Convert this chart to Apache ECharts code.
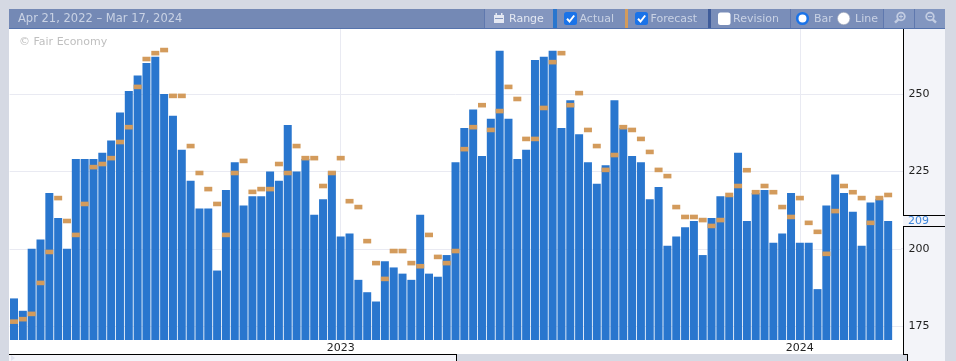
<!DOCTYPE html>
<html>
<head>
<meta charset="utf-8">
<style>html,body{margin:0;padding:0;background:#d5d9e3;overflow:hidden}#c{width:956px;height:361px}</style>
<script src="https://cdn.jsdelivr.net/npm/echarts@6/dist/echarts.min.js"></script>
</head>
<body>
<div id="c"></div>
<script>
const dateRange = 'Apr 21, 2022 – Mar 17, 2024';
const watermark = '© Fair Economy';
const firstWeek = '2022-04-21';
const yearTicks = { 37: '2023', 89: '2024' };
const yTicks = [175, 200, 225, 250];
const lastValue = 209;
const actual = [184,180,200,203,218,210,200,229,229,229,231,235,244,251,256,260,262,250,243,232,
222,213,213,193,219,228,214,217,217,225,222,240,225,229,211,216,225,204,205,190,
186,183,196,194,192,190,211,192,191,198,228,239,245,230,242,264,242,229,232,261,
262,264,239,248,237,228,221,227,248,239,230,228,216,220,201,204,207,209,198,210,
217,217,231,209,218,219,202,205,218,202,202,187,214,224,218,212,201,215,216,209];
const forecast = [176.5,177.3,179,189,199,216.4,209,204.5,214.5,226.4,227.4,229.3,234.5,239.3,252.3,261.3,263.2,264.2,249.4,249.4,
233.2,224.5,219.3,214.5,204.5,224.5,228.4,218.4,219.3,219.3,227.4,224.5,233.2,229.3,229.3,220.3,224.5,229.3,215.4,213.5,
202.5,195.4,190.3,199.3,199.3,195.4,194.4,204.5,197.4,195.4,199.3,232.2,239.3,246.4,238.4,244.5,252.3,248.4,235.5,235.5,
245.5,260.3,263.2,246.4,250.3,238.4,233.2,225.5,230.3,239.3,238.4,235.5,231.3,225.5,223.5,213.5,210.3,210.3,209.3,207.4,
209.3,217.4,220.3,225.4,218.3,220.3,218.3,213.5,210.3,216.4,208.4,205.5,198.4,212.2,220.3,218.3,216.4,208.4,216.4,217.4];

const categories = [];
for (let i = 0; i < actual.length + 1; i++) {
  const d = new Date(firstWeek + 'T00:00:00Z');
  d.setUTCDate(d.getUTCDate() + i * 7);
  categories.push(d.toISOString().slice(0, 10));
}

const FONT = '"DejaVu Sans"';
const GRID = '#e9eaf2';
const TXT = '#c9d2e4';
const Y_MIN = 170.57, Y_MAX = 271, G_TOP = 29, G_H = 311;
const rect = (x, y, w, h, fill, z = -1, r = 0) => ({ type: 'rect', silent: true, z, shape: { x, y, width: w, height: h, r }, style: { fill } });
const hline = (x1, y, x2, z = 6) => rect(x1, y, x2 - x1, 1, '#000', z);
const vline = (x, y1, y2, z = 6) => rect(x, y1, 1, y2 - y1, '#000', z);
const label = (x, y, text, fill = TXT, size = 11) => ({ type: 'text', silent: true, z: 8, x, y, style: { text, fill, font: size + 'px ' + FONT, textVerticalAlign: 'middle', textAlign: 'left' } });
const check = (x, y) => [
  rect(x, y, 13, 13, '#1a73e8', 7, 2.5),
  { type: 'polyline', silent: true, z: 8, shape: { points: [[x + 3, y + 6.8], [x + 5.5, y + 9.5], [x + 10.2, y + 3.5]] }, style: { stroke: '#fff', lineWidth: 2, fill: null } }
];
const magnifier = (cx, cy, plus) => {
  const col = '#c3cde2';
  const out = [
    { type: 'circle', silent: true, z: 8, shape: { cx, cy, r: 3.8 }, style: { stroke: col, lineWidth: 1.8, fill: null } },
    { type: 'line', silent: true, z: 8, shape: plus ? { x1: cx - 2.6, y1: cy + 2.9, x2: cx - 6, y2: cy + 6.2 } : { x1: cx + 2.6, y1: cy + 2.9, x2: cx + 6, y2: cy + 6.2 }, style: { stroke: col, lineWidth: 2.4 } },
    rect(cx - 2, cy - 0.5, 4, 1, col, 8)
  ];
  if (plus) out.push(rect(cx - 0.5, cy - 2, 1, 4, col, 8));
  return out;
};

const elements = [
  // surfaces
  rect(9, 28, 894, 326, '#fff'),
  rect(903, 29, 42, 325, '#f3f4f9'),
  rect(907, 354, 38, 7, '#f3f4f9'),
  rect(9, 355, 447, 6, '#f3f4f9'),
  { type: 'polygon', silent: true, z: -1, shape: { points: [[11, 355], [15, 358], [11, 361]] }, style: { fill: '#dfe2ee' } },
  // grid lines finishing at the panel edge
  ...yTicks.map(v => rect(901, Math.floor(G_TOP + (Y_MAX - v) * G_H / (Y_MAX - Y_MIN)), 2, 1, GRID, 0)),
  // frame lines
  vline(903, 29, 215), hline(903, 215, 945), hline(903, 226, 945), vline(903, 226, 354),
  hline(9, 354, 457), vline(456, 354, 361), hline(903, 354, 908), vline(907, 354, 361),
  // toolbar
  rect(9, 9, 936, 20, '#7489b5', 5),
  rect(9, 28, 936, 1, '#5573ad', 6),
  rect(484, 9, 1, 19, '#5f78ae', 6),
  rect(485, 9, 68, 19, '#8496bf', 5),
  rect(553, 9, 4, 19, '#2976ce', 6),
  rect(557, 9, 68, 19, '#7a8eb9', 5),
  rect(625, 9, 3, 19, '#d39b5c', 6),
  rect(628, 9, 80, 19, '#7a8eb9', 5),
  rect(708, 9, 3, 19, '#3f5c9a', 6),
  rect(711, 9, 79, 19, '#7a8eb9', 5),
  rect(790, 9, 1, 19, '#5f78ae', 6),
  rect(791, 9, 92, 19, '#7a8eb9', 5),
  rect(883, 9, 1, 19, '#5f78ae', 6),
  rect(884, 9, 30, 19, '#8296c0', 5),
  rect(914, 9, 1, 19, '#5f78ae', 6),
  rect(915, 9, 30, 19, '#8296c0', 5),
  label(18, 19, dateRange, TXT, 11.5),
  label(19, 42.5, watermark, '#bfbfbf', 11),
  // Range icon
  rect(494, 15, 10, 8, '#e4e8f2', 8),
  rect(495, 18, 8, 1, '#8496bf', 9),
  rect(495.5, 13, 1.5, 3, '#e4e8f2', 8),
  rect(501, 13, 1.5, 3, '#e4e8f2', 8),
  label(509, 19, 'Range', '#e4e8f2'),
  ...check(564, 12),
  label(579.5, 19, 'Actual'),
  ...check(635, 12),
  label(650.5, 19, 'Forecast'),
  rect(718, 12.5, 12.5, 12.5, '#fff', 7, 2.5),
  label(733, 19, 'Revision'),
  { type: 'circle', silent: true, z: 7, shape: { cx: 802.5, cy: 18.5, r: 5.3 }, style: { fill: '#fff', stroke: '#1a73e8', lineWidth: 2.6 } },
  label(814, 19, 'Bar'),
  { type: 'circle', silent: true, z: 7, shape: { cx: 843.7, cy: 18.5, r: 6.2 }, style: { fill: '#fff', stroke: '#9aa3b5', lineWidth: 0.6 } },
  label(855, 19, 'Line'),
  ...magnifier(901, 16.5, true),
  ...magnifier(930, 16.5, false),
  label(908, 221, String(lastValue), '#3f87dc')
];

const chart = echarts.init(document.getElementById('c'));
chart.setOption({
  animation: false,
  backgroundColor: '#d5d9e3',
  textStyle: { fontFamily: FONT },
  grid: { left: 9.6, top: G_TOP, width: 891.8, height: G_H },
  graphic: { elements },
  xAxis: {
    type: 'category', data: categories, boundaryGap: true,
    axisLine: { show: false }, axisTick: { show: false }, splitLine: { show: false },
    axisLabel: {
      interval: (i) => i in yearTicks,
      formatter: (v, i) => yearTicks[i] || '',
      color: '#222', fontSize: 11, margin: 3, hideOverlap: false, fontFamily: FONT
    }
  },
  yAxis: {
    type: 'value', position: 'right', min: Y_MIN, max: Y_MAX, scale: true,
    axisLine: { show: false }, axisTick: { show: false }, splitLine: { show: false },
    axisLabel: { customValues: yTicks, color: '#222', fontSize: 11, margin: 7, lineHeight: 13, padding: [4, 0, 0, 0], fontFamily: FONT }
  },
  series: [
    {
      name: 'Actual', type: 'bar', data: actual, barWidth: 8, z: 2,
      itemStyle: { color: '#2976ce' },
      markLine: {
        silent: true, symbol: 'none', z: 1, label: { show: false }, animation: false,
        lineStyle: { color: GRID, width: 1, type: 'solid' },
        data: yTicks.map(v => ({ yAxis: v })).concat(Object.keys(yearTicks).map(i => ({ xAxis: categories[i] })))
      }
    },
    {
      name: 'Forecast', type: 'scatter', data: forecast, symbol: 'rect', symbolSize: [8, 4.6], z: 3,
      itemStyle: { color: '#d39b5c', opacity: 1 }
    }
  ]
});
</script>
</body>
</html>
